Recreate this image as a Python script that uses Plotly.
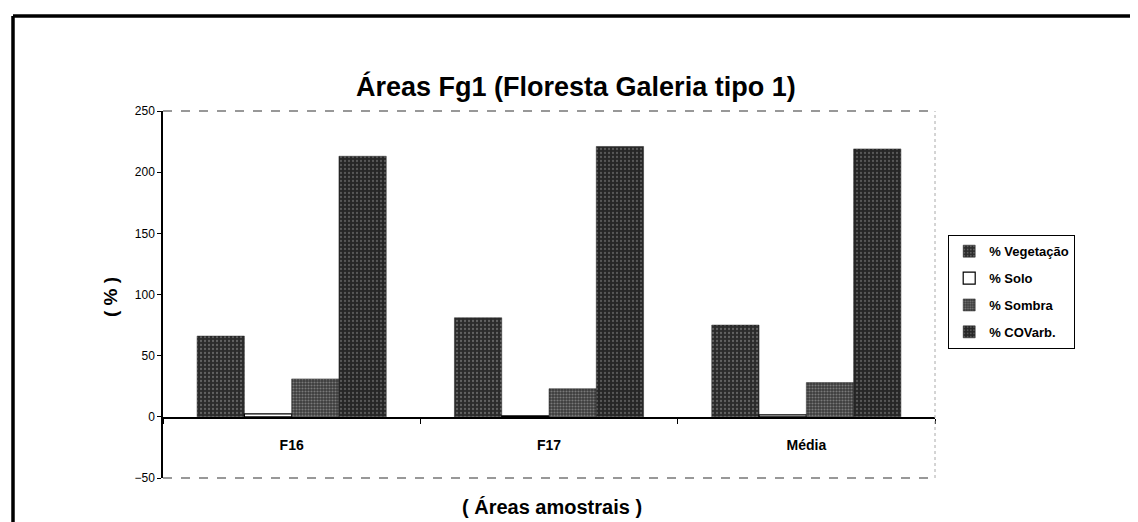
import plotly.graph_objects as go

categories = ["F16", "F17", "Média"]
vegetacao = [66, 81, 75]
solo = [2.5, 0.8, 1.6]
sombra = [31, 23, 28]
covarb = [213, 221, 219]
series_names = ["% Vegetação", "% Solo", "% Sombra", "% COVarb."]
y_ticks = [-50, 0, 50, 100, 150, 200, 250]

OFF = 8  # browser body margin
W, H = 1138 - OFF, 522 - OFF
L, R, T, B = 163, 935, 111, 478  # reference pixel positions

def px(x):
    return (x - L) / (R - L)

def py(y):
    return (B - y) / (B - T)

fig = go.Figure()
styles = [
    dict(color="#2b2b2b", pattern=dict(shape=".", fgcolor="#9a9a9a", size=4, solidity=0.25)),
    dict(color="white", line=dict(color="black", width=1.2)),
    dict(color="#3c3c3c", pattern=dict(shape=".", fgcolor="#b5b5b5", size=3, solidity=0.4)),
    dict(color="#262626", pattern=dict(shape=".", fgcolor="#8a8a8a", size=4, solidity=0.25)),
]
for i, (name, vals, st) in enumerate(zip(series_names, [vegetacao, solo, sombra, covarb], styles)):
    marker = dict(color=st["color"], line=st.get("line", dict(color="#222", width=0.5)))
    if "pattern" in st:
        marker["pattern"] = st["pattern"]
    fig.add_trace(go.Bar(x=categories, y=vals, name="<b>%s</b>" % name, marker=marker,
                         legendgroup="g%d" % i))

shapes = [
    dict(type="line", xref="paper", yref="paper", x0=0, x1=1, y0=1, y1=1,
         line=dict(color="#333", width=1.2, dash="dash")),
    dict(type="line", xref="paper", yref="paper", x0=0, x1=1, y0=0, y1=0,
         line=dict(color="#333", width=1.2, dash="dash")),
    dict(type="line", xref="paper", yref="paper", x0=1, x1=1, y0=0, y1=1,
         line=dict(color="#aaa", width=1, dash="dot")),
    dict(type="line", xref="paper", yref="paper", x0=px(13), x1=px(1150), y0=py(16), y1=py(16),
         line=dict(color="black", width=3.5)),
    dict(type="line", xref="paper", yref="paper", x0=px(13), x1=px(13), y0=py(16), y1=py(540),
         line=dict(color="black", width=3.5)),
]

annotations = [
    dict(text="<b>Áreas Fg1 (Floresta Galeria tipo 1)</b>", xref="paper", yref="paper",
         x=px(576), y=py(86), xanchor="center", yanchor="middle", showarrow=False,
         font=dict(size=27, family="Liberation Sans", color="black")),
    dict(text="<b>( % )</b>", xref="paper", yref="paper", x=px(110), y=py(297), textangle=-90,
         xanchor="center", yanchor="middle", showarrow=False,
         font=dict(size=19, family="Liberation Sans", color="black")),
    dict(text="<b>( Áreas amostrais )</b>", xref="paper", yref="paper", x=px(552), y=py(507),
         xanchor="center", yanchor="middle", showarrow=False,
         font=dict(size=20, family="Liberation Sans", color="black")),
]

fig.update_layout(
    width=W, height=H,
    margin=dict(l=L - OFF, r=W - (R - OFF), t=T - OFF, b=H - (B - OFF), autoexpand=False),
    paper_bgcolor="white", plot_bgcolor="white",
    barmode="group", bargap=0.265, bargroupgap=0,
    showlegend=True,
    legend=dict(x=px(948), y=py(235), xanchor="left", yanchor="top",
                bordercolor="black", borderwidth=1.2, bgcolor="white",
                font=dict(size=13, family="Liberation Sans", color="black"),
                tracegroupgap=7, itemwidth=30),
    shapes=shapes, annotations=annotations,
    font=dict(family="Liberation Sans", color="black"),
)
fig.update_yaxes(range=[-50, 250], tickvals=y_ticks, showgrid=False, zeroline=False,
                 showline=True, linecolor="black", linewidth=1.5, ticks="outside", ticklen=4,
                 tickcolor="black", tickfont=dict(size=12, color="black"))
fig.update_xaxes(anchor="free", position=py(418), showline=True, linecolor="black", linewidth=1.5,
                 ticks="outside", tickson="boundaries", ticklen=5, tickcolor="black",
                 ticklabelstandoff=14, showgrid=False,
                 tickvals=categories, ticktext=["<b>%s</b>" % c for c in categories],
                 tickfont=dict(size=14, color="black", family="Liberation Sans"))
fig.write_html("out.html")
